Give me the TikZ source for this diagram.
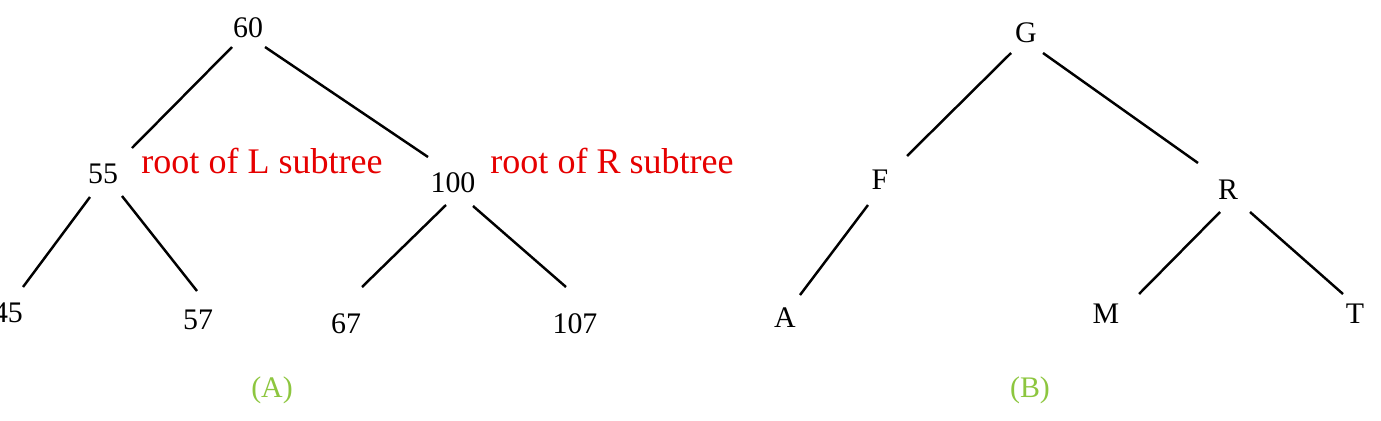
\documentclass[tikz,border=0pt]{standalone}
\usepackage{fontspec}
\setmainfont{Liberation Serif}
\definecolor{lblred}{RGB}{230,0,0}
\definecolor{capgreen}{RGB}{141,198,63}
\begin{document}
\begin{tikzpicture}[x=0.02cm,y=-0.02cm,
  key/.style={font=\fontsize{17}{20}\selectfont, inner sep=0pt, anchor=base},
  note/.style={font=\fontsize{20.5}{24}\selectfont, text=lblred, inner sep=0pt, anchor=base},
  capt/.style={font=\fontsize{17}{20}\selectfont, text=capgreen, inner sep=0pt, anchor=base},
  edge/.style={line width=1.4pt}]
\useasboundingbox (0,0) rectangle (1381,420);
% tree A
\node[key] (n60) at (248,37) {60};
\node[key] (n55) at (103,183) {55};
\node[key] (n100) at (453,192) {100};
\node[key] (n45) at (8,322) {45};
\node[key] (n57) at (198,329) {57};
\node[key] (n67) at (346,333) {67};
\node[key] (n107) at (575,333) {107};
\node[note] (rl) at (262,173) {root of L subtree};
\node[note] (rr) at (612,173) {root of R subtree};
\node[capt] (ca) at (272,397) {(A)};
\draw[edge] ([shift={(-16,10)}]n60.base) -- ([shift={(29,-35)}]n55.base);
\draw[edge] ([shift={(17,10)}]n60.base) -- ([shift={(-25,-35)}]n100.base);
\draw[edge] ([shift={(-13,14)}]n55.base) -- ([shift={(15,-35)}]n45.base);
\draw[edge] ([shift={(19,13)}]n55.base) -- ([shift={(-1,-38)}]n57.base);
\draw[edge] ([shift={(-7,13)}]n100.base) -- ([shift={(16,-46)}]n67.base);
\draw[edge] ([shift={(20,14)}]n100.base) -- ([shift={(-9,-46)}]n107.base);
% tree B
\node[key] (g) at (1026,42) {G};
\node[key] (f) at (880,189) {F};
\node[key] (r) at (1228,199) {R};
\node[key] (a) at (785,327) {A};
\node[key] (m) at (1106,323) {M};
\node[key] (t) at (1355,323) {T};
\node[capt] (cb) at (1030,397) {(B)};
\draw[edge] ([shift={(-15,11)}]g.base) -- ([shift={(27,-33)}]f.base);
\draw[edge] ([shift={(17,11)}]g.base) -- ([shift={(-30,-36)}]r.base);
\draw[edge] ([shift={(-12,16)}]f.base) -- ([shift={(15,-32)}]a.base);
\draw[edge] ([shift={(-8,13)}]r.base) -- ([shift={(33,-29)}]m.base);
\draw[edge] ([shift={(22,13)}]r.base) -- ([shift={(-12,-29)}]t.base);
\end{tikzpicture}
\end{document}
